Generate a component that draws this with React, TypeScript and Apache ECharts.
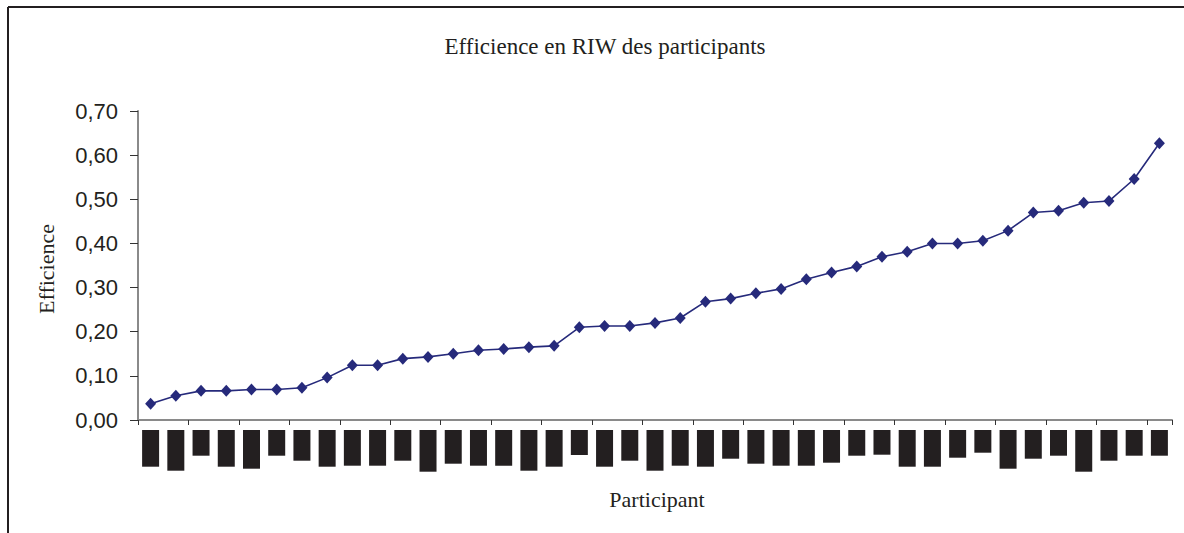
import React, { useEffect, useRef } from "react";
import * as echarts from "echarts";

const participants: string[] = Array.from({ length: 41 }, (_, i) => `P${i + 1}`);
const efficience: number[] = [
  0.037, 0.055, 0.066, 0.066, 0.069, 0.069, 0.073, 0.096, 0.124, 0.124,
  0.139, 0.143, 0.150, 0.158, 0.161, 0.165, 0.168, 0.210, 0.213, 0.213,
  0.220, 0.231, 0.268, 0.275, 0.287, 0.297, 0.319, 0.334, 0.348, 0.370,
  0.381, 0.400, 0.400, 0.406, 0.429, 0.470, 0.474, 0.492, 0.496, 0.546,
  0.627,
];
// lengths of the redacted (blacked-out) participant labels
const labelBoxLengths: number[] = [
  36.7, 40.7, 25.7, 36.7, 38.7, 25.7, 30.7, 36.7, 35.7, 35.7,
  30.7, 41.7, 33.7, 35.7, 35.7, 40.7, 36.7, 25, 36.7, 30.7,
  40.7, 35.7, 36.7, 28.7, 33.7, 35.7, 35.7, 32.7, 25.7, 24.7,
  36.7, 36.7, 27.7, 22.7, 38.7, 28.7, 25.7, 41.7, 30.7, 25.7,
  25.7,
];
const yTicks: number[] = [0, 0.1, 0.2, 0.3, 0.4, 0.5, 0.6, 0.7];

export default function App() {
  const ref = useRef<HTMLDivElement>(null);
  useEffect(() => {
    if (!ref.current) return;
    const chart = echarts.init(ref.current, null, { renderer: "svg" });
    chart.setOption({
      animation: false,
      backgroundColor: "#ffffff",
      title: {
        text: "Efficience en RIW des participants",
        left: 600,
        top: 30,
        textAlign: "center",
        textStyle: {
          fontFamily: "Liberation Serif",
          fontWeight: "normal",
          fontSize: 23,
          color: "#231f20",
        },
      },
      graphic: [
        { type: "line", shape: { x1: 8, y1: 7, x2: 1184, y2: 7 }, style: { stroke: "#231f20", lineWidth: 2 } },
        { type: "line", shape: { x1: 8, y1: 7, x2: 8, y2: 533 }, style: { stroke: "#231f20", lineWidth: 2 } },
        {
          type: "text",
          x: 657,
          y: 499,
          style: {
            text: "Participant",
            fontFamily: "Liberation Serif",
            fontSize: 22,
            fill: "#231f20",
            align: "center",
            verticalAlign: "middle",
          },
        },
        {
          type: "text",
          x: 46,
          y: 269,
          rotation: Math.PI / 2,
          style: {
            text: "Efficience",
            fontFamily: "Liberation Serif",
            fontSize: 22,
            fill: "#231f20",
            align: "center",
            verticalAlign: "middle",
          },
        },
      ],
      grid: [
        { left: 138, right: 12, top: 111, bottom: 113 },
        { left: 138, right: 12, top: 430, bottom: 58 },
      ],
      xAxis: [
        {
          type: "category",
          gridIndex: 0,
          data: participants,
          boundaryGap: true,
          axisLine: { lineStyle: { color: "#8a8a8a", width: 2 } },
          axisTick: { show: true, length: 5, inside: false, lineStyle: { color: "#333", width: 1 } },
          axisLabel: { show: false },
        },
        {
          type: "category",
          gridIndex: 1,
          data: participants,
          axisLine: { show: false },
          axisTick: { show: false },
          axisLabel: { show: false },
        },
      ],
      yAxis: [
        {
          type: "value",
          gridIndex: 0,
          min: 0,
          max: 0.7,
          interval: 0.1,
          axisLine: { show: true, lineStyle: { color: "#8a8a8a", width: 2 } },
          axisTick: { show: true, length: 8, lineStyle: { color: "#333", width: 1 } },
          splitLine: { show: false },
          axisLabel: {
            margin: 20,
            fontFamily: "Liberation Sans",
            fontSize: 22,
            color: "#231f20",
            formatter: (v: number) => {
              const t = yTicks.find((x) => Math.abs(x - v) < 1e-9);
              return (t !== undefined ? t : v).toFixed(2).replace(".", ",");
            },
          },
        },
        {
          type: "value",
          gridIndex: 1,
          min: 0,
          max: 45,
          inverse: true,
          show: false,
          splitLine: { show: false },
        },
      ],
      series: [
        {
          type: "line",
          xAxisIndex: 0,
          yAxisIndex: 0,
          data: efficience,
          symbol: "diamond",
          symbolSize: [11, 12],
          lineStyle: { color: "#262a7b", width: 1.6 },
          itemStyle: { color: "#262a7b" },
        },
        {
          type: "bar",
          xAxisIndex: 1,
          yAxisIndex: 1,
          data: labelBoxLengths,
          barWidth: 17,
          itemStyle: { color: "#231f20" },
        },
      ],
    });
    return () => chart.dispose();
  }, []);
  return (
    <div
      ref={ref}
      style={{ position: "absolute", left: 0, top: 0, width: 1184, height: 533 }}
    />
  );
}
